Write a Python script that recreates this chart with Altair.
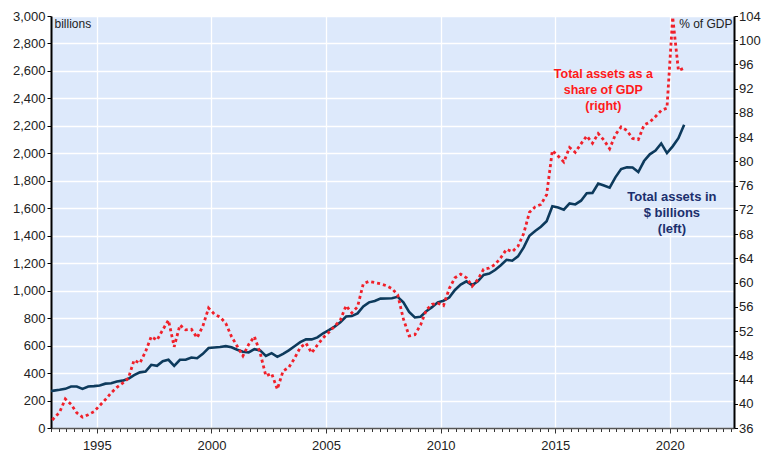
import altair as alt
import pandas as pd

# ---------------- data (quarterly) ----------------
quarters = ["1992Q4"] + [f"{y}Q{q}" for y in range(1993, 2020) for q in range(1, 5)] + ["2020Q1", "2020Q2", "2020Q3"]

assets_bn = [
    266,
    272, 278, 285, 302,
    302, 285, 302, 305,
    310, 323, 326, 338,
    345, 358, 385, 405,
    411, 460, 453, 487,
    497, 453, 497, 497,
    513, 508, 540, 582,
    586, 590, 596, 588,
    570, 555, 550, 574,
    565, 525, 545, 518,
    540, 565, 595, 625,
    645, 645, 660, 690,
    712, 738, 770, 812,
    815, 835, 885, 915,
    925, 942, 943, 945,
    955, 915, 845, 805,
    810, 850, 880, 915,
    927, 950, 1005, 1045,
    1068, 1040, 1068, 1115,
    1124, 1150, 1185, 1225,
    1218, 1250, 1315, 1400,
    1435, 1465, 1505, 1615,
    1605, 1590, 1635, 1628,
    1655, 1710, 1712, 1780,
    1766, 1750, 1825, 1885,
    1898, 1897, 1864, 1944,
    1993, 2020, 2072, 2002,
    2051, 2110, 2209,
]

share_gdp = [
    36.6,
    37.6, 38.6, 40.8, 39.9,
    38.5, 37.8, 38.2, 38.7,
    39.7, 40.7, 41.8, 42.7,
    43.4, 44.2, 47.2, 46.7,
    48.6, 51.1, 50.5, 52.2,
    53.8, 49.4, 53.0, 52.2,
    52.3, 50.9, 52.8, 55.8,
    54.8, 54.3, 53.3, 51.1,
    49.5, 47.9, 49.8, 51.1,
    48.4, 44.6, 45.0, 42.4,
    45.4, 46.0, 47.5, 49.3,
    50.0, 48.4, 49.7, 50.9,
    51.8, 52.8, 53.8, 56.2,
    55.0, 56.0, 59.8, 60.2,
    60.0, 59.8, 59.5, 59.0,
    58.0, 54.0, 51.2, 51.4,
    53.0, 55.5, 56.4, 56.6,
    56.2, 59.0, 60.8, 61.4,
    60.8, 59.4, 60.5, 62.2,
    62.4, 63.0, 64.1, 65.5,
    65.1, 66.0, 68.1, 71.6,
    72.5, 72.9, 74.5, 81.8,
    80.9, 79.9, 82.3, 81.5,
    82.9, 84.2, 83.0, 84.6,
    83.5, 82.1, 84.4, 85.7,
    85.1, 83.8, 83.6, 86.0,
    86.5, 87.4, 88.4, 88.8,
    103.8, 95.0, 95.4,
]

left_ticks = list(range(0, 3001, 200))
right_ticks = list(range(36, 105, 4))
year_labels = [1995, 2000, 2005, 2010, 2015, 2020]

red_label = ["Total assets as a", "share of GDP", "(right)"]
red_label_t = [2017.1, 2017.1, 2017.1]
red_label_y = [94.5, 91.85, 89.15]

blue_label = ["Total assets in", "$ billions", "(left)"]
blue_label_t = [2020.09, 2020.09, 2020.09]
blue_label_y = [1682, 1565, 1449]

# ---------------- build tables ----------------
t_mid = [int(s[:4]) + (int(s[-1]) - 1) / 4 + 0.125 for s in quarters]
df = pd.DataFrame({"t": t_mid, "assets": assets_bn, "share": share_gdp})
red_df = pd.DataFrame({"t": red_label_t, "share": red_label_y, "text": red_label})
blue_df = pd.DataFrame({"t": blue_label_t, "assets": blue_label_y, "text": blue_label})

X_DOMAIN = [1993, 2022.8]
minor_ticks = [round(1993 + k / 3, 6) for k in range(0, 90)]

FONT = "Liberation Sans"
BLUE = "#0d3a5c"
RED = "#f0202a"

# major x axis: labels + 5-year white grid
x_axis_major = alt.Axis(
    orient="bottom",
    values=year_labels,
    format="d",
    grid=True,
    gridColor="white",
    gridWidth=1.3,
    tickSize=5,
    tickColor="#333333",
    domain=False,
    labelFontSize=13,
    labelPadding=6,
    labelOverlap=False,
    labelFlush=False,
    title=None,
)
# minor x axis: only small ticks + axis line
x_axis_minor = alt.Axis(
    orient="bottom",
    values=minor_ticks,
    grid=False,
    labels=False,
    tickSize=3.5,
    tickColor="#333333",
    domainColor="#555555",
    domainWidth=1.5,
    title=None,
)
x_scale = alt.Scale(domain=X_DOMAIN, nice=False, zero=False)

left_scale = alt.Scale(domain=[0, 3000], nice=False, zero=False)
right_scale = alt.Scale(domain=[36, 104], nice=False, zero=False)

left_axis = alt.Axis(
    orient="left", values=left_ticks, format=",d",
    grid=True, gridColor="white", gridWidth=1.3,
    domainColor="black", domainWidth=2, tickColor="black", tickSize=4,
    labelFontSize=13, labelPadding=2,
    title="billions", titleAngle=0, titleAlign="left", titleX=3, titleY=11,
    titleBaseline="alphabetic", titleFontWeight="normal", titleFontSize=12,
)
right_axis = alt.Axis(
    orient="right", values=right_ticks, grid=False,
    domainColor="black", domainWidth=2, tickColor="black", tickSize=3.5,
    labelFontSize=13, labelPadding=1,
    title="% of GDP", titleAngle=0, titleAlign="right", titleX=-2, titleY=11,
    titleBaseline="alphabetic", titleFontWeight="normal", titleFontSize=12,
)

blue_line = alt.Chart(df).mark_line(color=BLUE, strokeWidth=2.6, clip=True).encode(
    x=alt.X("t:Q", scale=x_scale, axis=x_axis_major),
    y=alt.Y("assets:Q", scale=left_scale, axis=left_axis),
)
blue_text = alt.Chart(blue_df).mark_text(
    font=FONT, fontSize=13, fontWeight="bold", color="#1b2f6d", align="center", baseline="middle"
).encode(
    x=alt.X("t:Q", scale=x_scale, axis=x_axis_major),
    y=alt.Y("assets:Q", scale=left_scale, axis=left_axis),
    text="text:N",
)

red_line = alt.Chart(df).mark_line(color=RED, strokeWidth=2.8, strokeDash=[3, 3], clip=True).encode(
    x=alt.X("t:Q", scale=x_scale, axis=x_axis_minor),
    y=alt.Y("share:Q", scale=right_scale, axis=right_axis),
)
red_text = alt.Chart(red_df).mark_text(
    font=FONT, fontSize=12.5, fontWeight="bold", color="#ff1a1a", align="center", baseline="middle"
).encode(
    x=alt.X("t:Q", scale=x_scale, axis=x_axis_minor),
    y=alt.Y("share:Q", scale=right_scale, axis=right_axis),
    text="text:N",
)

left_group = alt.layer(blue_line, blue_text)
right_group = alt.layer(red_line, red_text)

chart = (
    alt.layer(left_group, right_group)
    .resolve_scale(y="independent")
    .resolve_axis(x="independent", y="independent")
    .properties(
        width=683,
        height=412,
        autosize=alt.AutoSizeParams(type="none"),
        padding={"left": 43, "top": 8, "right": 27, "bottom": 26},
    )
    .configure_view(fill="#dde9fb", stroke=None)
    .configure_axis(labelFont=FONT, titleFont=FONT, labelColor="#222222", titleColor="#222222")
)

chart.save("out.html", embed_options={"renderer": "svg", "actions": False})
